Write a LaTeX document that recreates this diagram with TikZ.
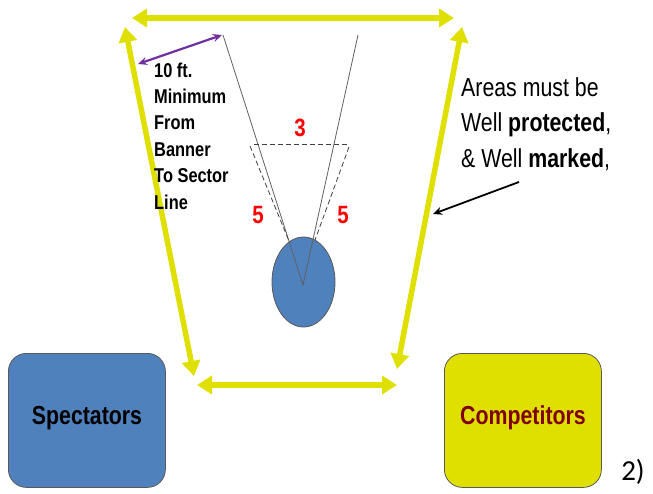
\documentclass[tikz,border=0pt]{standalone}
\usepackage{fontspec}
\setmainfont{Liberation Sans}
\newfontfamily\narrowfont[FakeStretch=0.82]{Liberation Sans}
\newfontfamily\calfont{Carlito}
\usetikzlibrary{arrows.meta,shapes.geometric}
\definecolor{yel}{RGB}{224,224,0}
\definecolor{blu}{RGB}{79,129,189}
\definecolor{purp}{RGB}{112,48,160}
\definecolor{dred}{RGB}{128,0,0}
\tikzset{
  yarrow/.style={draw=yel,line width=5.5pt,{Triangle[width=18pt,length=15pt]}-{Triangle[width=18pt,length=15pt]}},
  box/.style={draw=gray!70!black,line width=0.8pt,rounded corners=18pt,minimum width=157pt,minimum height=134pt,inner sep=0pt},
  sector/.style={draw=gray!75!black,line width=0.8pt},
  dsh/.style={draw=gray!50!black,line width=0.8pt,dashed,dash pattern=on 5pt off 3pt},
  num/.style={text=red,font=\narrowfont\bfseries\fontsize{25}{25}\selectfont,inner sep=0pt},
}
\begin{document}
\begin{tikzpicture}[x=1pt,y=-1pt]
\useasboundingbox (0,0) rectangle (653,494);
% boxes
\node[box,fill=blu,anchor=north west] (spec) at (8,353) {};
\node[font=\narrowfont\bfseries\fontsize{26}{26}\selectfont,text=black] (spect) at (87,418) {Spectators};
\node[box,fill=yel,anchor=north west] (comp) at (444,353) {};
\node[font=\narrowfont\bfseries\fontsize{26}{26}\selectfont,text=dred] (compt) at (523,418) {Competitors};
\node[font=\calfont\fontsize{29}{29}\selectfont,inner sep=0pt] (two) at (633,472) {2)};
% yellow arrows
\coordinate (tl) at (132,18);
\coordinate (tr) at (454,18);
\coordinate (lt) at (125,27);
\coordinate (lb) at (194,376);
\coordinate (rt) at (462,27);
\coordinate (rb) at (397,369);
\coordinate (bl) at (197,385);
\coordinate (br) at (397,385);
\draw[yarrow] (tl) -- (tr);
\draw[yarrow] (lt) -- (lb);
\draw[yarrow] (rt) -- (rb);
\draw[yarrow] (bl) -- (br);
% circle
\node[ellipse,draw=gray!70!black,line width=0.8pt,fill=blu,minimum width=63pt,minimum height=90pt,inner sep=0pt] (circ) at (303.5,282) {};
% sector
\coordinate (apex) at (303,285);
\coordinate (sl) at (223,35);
\coordinate (sr) at (358,35);
\draw[sector] (sl) -- (apex) -- (sr);
\coordinate (h1) at (254,144);
\coordinate (h2) at (347,144);
\coordinate (d1) at (250,146);
\coordinate (d1e) at (289,241);
\coordinate (d2) at (349,147);
\coordinate (d2e) at (315,240);
\draw[dsh] (h1) -- (h2);
\draw[dsh] (d1) -- (d1e);
\draw[dsh] (d2) -- (d2e);
\node[num] (n3) at (300,128) {3};
\node[num] (n5a) at (258,215) {5};
\node[num] (n5b) at (343,215) {5};
% purple arrow
\coordinate (pa) at (138,64);
\coordinate (pb) at (222,35);
\draw[draw=purp,line width=2.2pt,{Stealth[length=9pt,width=8pt]}-{Stealth[length=9pt,width=8pt]}] (pa) -- (pb);
% 10 ft text
\node[anchor=north west,align=left,inner sep=0pt,font=\narrowfont\bfseries\fontsize{20}{26.4}\selectfont] (ten) at (154,62.5) {10 ft.\\Minimum\\From\\Banner\\To Sector\\Line};
% areas text
\node[anchor=north west,align=left,inner sep=0pt,font=\narrowfont\fontsize{26}{35.5}\selectfont] (areas) at (461,77) {Areas must be\\Well \textbf{protected},\\\& Well \textbf{marked},};
% black arrow
\coordinate (ka) at (519,182);
\coordinate (kb) at (433,214);
\draw[line width=1.8pt,-{Stealth[length=9pt,width=8pt]}] (ka) -- (kb);
\end{tikzpicture}
\end{document}
